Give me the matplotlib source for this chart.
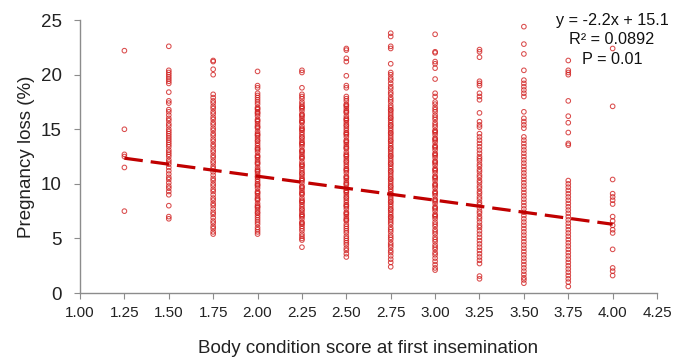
import matplotlib
matplotlib.use("Agg")
import matplotlib.pyplot as plt
import numpy as np

plt.rcParams['font.family'] = ['Liberation Sans', 'DejaVu Sans']

# ---- data ----
bcs = [1.25, 1.50, 1.75, 2.00, 2.25, 2.50, 2.75, 3.00, 3.25, 3.50, 3.75, 4.00]

c125 = [22.2, 15.0, 12.7, 12.5, 11.5, 7.5]
c150 = [22.6, 20.4, 20.2, 20.0, 19.8, 19.6, 19.4, 19.2, 18.4, 17.6, 17.4, 16.8, 16.6, 16.3, 16.0, 15.8,
        15.5, 15.3, 15.0, 14.8, 14.6, 14.4, 14.2, 14.0, 13.8, 13.6, 13.4, 13.1, 12.9, 12.7, 12.5, 12.2,
        12.0, 11.8, 11.5, 11.2, 10.9, 10.6, 10.4, 10.1, 9.8, 9.6, 9.3, 9.0, 8.0, 7.0, 6.8]
c175 = [21.3, 21.2, 20.5, 20.0, 18.2, 17.9, 17.6, 17.4, 17.1, 16.9, 16.6, 16.4, 16.1, 15.9, 15.6, 15.4,
        15.1, 14.9, 14.6, 14.4, 14.1, 13.9, 13.6, 13.4, 13.1, 12.9, 12.6, 12.4, 12.1, 11.9, 11.6, 11.4,
        11.1, 10.8, 10.5, 10.3, 10.0, 9.8, 9.5, 9.3, 9.0, 8.7, 8.5, 8.2, 8.0, 7.7, 7.4, 7.2, 6.9, 6.6,
        6.4, 6.1, 5.9, 5.6, 5.4]
c200 = [20.3, 19.0, 18.8, 18.3, 18.1, 17.9, 17.7, 17.5, 17.3, 17.0, 16.8, 16.6, 16.4, 16.2, 15.9, 15.7,
        15.5, 15.3, 15.1, 14.8, 14.6, 14.4, 14.2, 14.0, 13.7, 13.5, 13.3, 13.1, 12.9, 12.6, 12.4, 12.2,
        12.0, 11.8, 11.5, 11.3, 11.1, 10.9, 10.7, 10.4, 10.2, 10.0, 9.8, 9.6, 9.3, 9.1, 8.9, 8.7, 8.5,
        8.2, 8.0, 7.8, 7.6, 7.4, 7.1, 6.9, 6.7, 6.5, 6.3, 6.0, 5.8, 5.6, 5.4]
c225 = [20.4, 20.2, 18.8, 18.2, 18.0, 17.8, 17.5, 17.3, 17.1, 16.9, 16.7, 16.4, 16.2, 16.0, 15.8, 15.6,
        15.3, 15.1, 14.9, 14.7, 14.5, 14.2, 14.0, 13.8, 13.6, 13.4, 13.1, 12.9, 12.7, 12.5, 12.3, 12.0,
        11.8, 11.6, 11.4, 11.2, 10.9, 10.7, 10.5, 10.3, 10.1, 9.8, 9.6, 9.4, 9.2, 9.0, 8.7, 8.5, 8.3,
        8.1, 7.9, 7.6, 7.4, 7.2, 7.0, 6.8, 6.5, 6.3, 6.1, 5.9, 5.7, 5.4, 5.2, 5.0, 4.85, 4.2]
c250 = [22.4, 22.25, 21.5, 21.2, 19.9, 19.0, 18.8, 18.0, 17.8, 17.6, 17.3, 17.1, 16.9, 16.7, 16.5, 16.2,
        16.0, 15.8, 15.6, 15.4, 15.1, 14.9, 14.7, 14.5, 14.3, 14.0, 13.8, 13.6, 13.4, 13.2, 12.9, 12.7,
        12.5, 12.3, 12.1, 11.8, 11.6, 11.4, 11.2, 11.0, 10.7, 10.5, 10.3, 10.1, 9.9, 9.6, 9.4, 9.2, 9.0,
        8.8, 8.5, 8.3, 8.1, 7.9, 7.7, 7.4, 7.2, 7.0, 6.8, 6.6, 6.3, 6.1, 5.9, 5.7, 5.5, 5.2, 5.0, 4.8,
        4.6, 4.4, 4.1, 3.9, 3.6, 3.3]
c275 = [23.8, 23.5, 22.6, 22.4, 21.0, 20.2, 20.0, 19.7, 19.5, 19.2, 18.9, 18.7, 18.4, 18.2, 17.9, 17.7,
        17.5, 17.2, 17.0, 16.8, 16.5, 16.3, 16.1, 15.8, 15.6, 15.4, 15.1, 14.9, 14.7, 14.4, 14.2, 14.0,
        13.7, 13.5, 13.3, 13.0, 12.8, 12.6, 12.3, 12.1, 11.9, 11.6, 11.4, 11.2, 10.9, 10.7, 10.5, 10.2,
        10.0, 9.8, 9.5, 9.3, 9.1, 8.8, 8.6, 8.4, 8.1, 7.9, 7.7, 7.4, 7.2, 7.0, 6.7, 6.5, 6.3, 6.0, 5.8,
        5.6, 5.3, 5.1, 4.9, 4.6, 4.4, 4.2, 3.9, 3.7, 3.4, 3.1, 2.8, 2.4]
c300 = [23.7, 22.1, 22.0, 21.2, 21.0, 20.6, 19.6, 18.3, 18.0, 17.5, 17.3, 17.0, 16.8, 16.6, 16.3, 16.1,
        15.9, 15.6, 15.4, 15.2, 14.9, 14.7, 14.5, 14.2, 14.0, 13.8, 13.5, 13.3, 13.1, 12.8, 12.6, 12.4,
        12.1, 11.9, 11.7, 11.4, 11.2, 11.0, 10.7, 10.5, 10.3, 10.0, 9.8, 9.6, 9.3, 9.1, 8.9, 8.6, 8.4,
        8.2, 7.9, 7.7, 7.5, 7.2, 7.0, 6.8, 6.5, 6.3, 6.1, 5.8, 5.6, 5.4, 5.1, 4.9, 4.7, 4.4, 4.2, 4.0,
        3.7, 3.5, 3.2, 2.9, 2.6, 2.3, 2.1]
c325 = [22.3, 22.1, 21.6, 19.4, 19.2, 19.0, 18.3, 18.0, 17.7, 16.5, 15.7, 15.4, 15.2, 14.6, 14.3, 14.0,
        13.7, 13.4, 13.1, 12.8, 12.5, 12.3, 12.1, 11.8, 11.6, 11.3, 11.1, 10.8, 10.6, 10.3, 10.1, 9.8,
        9.6, 9.3, 9.1, 8.8, 8.6, 8.3, 8.1, 7.8, 7.5, 7.3, 7.0, 6.8, 6.5, 6.2, 6.0, 5.7, 5.4, 5.1, 4.8,
        4.5, 4.2, 3.9, 3.6, 3.3, 3.0, 2.7, 1.55, 1.3]
c350 = [24.4, 22.8, 21.9, 20.4, 19.5, 19.2, 18.9, 18.6, 18.3, 18.0, 16.6, 16.0, 15.7, 15.4, 15.1, 14.3,
        14.0, 13.7, 13.4, 13.1, 12.8, 12.5, 12.2, 11.9, 11.6, 11.3, 11.0, 10.7, 10.4, 10.1, 9.8, 9.5,
        9.2, 8.9, 8.6, 8.3, 8.0, 7.7, 7.4, 7.1, 6.8, 6.5, 6.2, 5.9, 5.6, 5.3, 5.0, 4.7, 4.4, 4.1, 3.8,
        3.5, 3.2, 2.9, 2.6, 2.3, 2.0, 1.7, 1.4, 1.2, 0.9]
c375 = [21.3, 20.4, 20.2, 20.0, 17.6, 16.2, 15.6, 14.7, 13.7, 13.55, 10.3, 10.0, 9.7, 9.4, 9.1, 8.8,
        8.5, 8.2, 7.9, 7.6, 7.3, 7.0, 6.7, 6.4, 6.1, 5.8, 5.5, 5.2, 4.9, 4.6, 4.3, 4.0, 3.7, 3.4, 3.1,
        2.8, 2.5, 2.2, 1.9, 1.6, 1.3, 1.0, 0.6]
c400 = [22.4, 17.1, 10.4, 9.1, 8.8, 8.5, 8.15, 7.0, 6.6, 6.2, 5.8, 5.5, 4.0, 2.3, 2.0, 1.6]

# extra overlapping observations in the densest cores
core200 = [16.9, 16.5, 15.8, 15.2, 14.5, 13.9, 13.2, 12.5, 11.9, 11.2, 10.6, 9.9, 9.2, 8.6, 7.9, 7.3]
core225 = [17.0, 16.3, 15.7, 15.0, 14.3, 13.7, 13.0, 12.4, 11.7, 11.0, 10.4, 9.7, 9.1, 8.4, 7.7, 7.1, 6.4]
core250 = [17.2, 16.6, 15.9, 15.3, 14.6, 13.9, 13.3, 12.6, 12.0, 11.3, 10.6, 10.0, 9.3, 8.7, 8.0, 7.3, 6.7]
core275 = [16.7, 16.0, 15.3, 14.6, 13.9, 13.2, 12.5, 11.8, 11.1, 10.4, 9.7, 9.0, 8.3, 7.6, 6.9]
core300 = [14.8, 14.1, 13.4, 12.7, 12.0, 11.3, 10.6, 9.9, 9.2, 8.5, 7.8, 7.1]

columns = [c125, c150, c175, c200, c225, c250, c275, c300, c325, c350, c375, c400]
cores = {2.00: core200, 2.25: core225, 2.50: core250, 2.75: core275, 3.00: core300}

slope = -2.2
intercept = 15.1
stats_text = ["y = -2.2x + 15.1", "R\u00b2 = 0.0892", "P = 0.01"]

xticks = [1.00, 1.25, 1.50, 1.75, 2.00, 2.25, 2.50, 2.75, 3.00, 3.25, 3.50, 3.75, 4.00, 4.25]
yticks = [0, 5, 10, 15, 20, 25]

# ---- plot ----
fig = plt.figure(figsize=(6.88, 3.59), dpi=100)
ax = fig.add_axes([0.1163, 0.1838, 0.8387, 0.7602])

mcolor = (0.82, 0.12, 0.12, 0.8)
for x, vals in zip(bcs, columns):
    ax.scatter([x] * len(vals), vals, s=11, facecolors='none',
               edgecolors=mcolor, linewidths=0.75, zorder=2)
for x, vals in cores.items():
    ax.scatter([x] * len(vals), vals, s=11, facecolors='none',
               edgecolors=mcolor, linewidths=0.75, zorder=2)

lx = np.array([bcs[0], bcs[-1]])
ax.plot(lx, intercept + slope * lx, color='#c00000', lw=2.3,
        dashes=(5.8, 2.5), zorder=3)

ax.set_xlim(1.0, 4.25)
ax.set_ylim(0, 25)
ax.set_xticks(xticks)
ax.set_xticklabels([f"{t:.2f}" for t in xticks])
ax.set_yticks(yticks)
for s in ['top', 'right']:
    ax.spines[s].set_visible(False)
for s in ['left', 'bottom']:
    ax.spines[s].set_color('#8c8c8c')
    ax.spines[s].set_linewidth(1.0)
ax.tick_params(axis='both', colors='#8c8c8c', length=4, width=0.8, direction='out')
ax.tick_params(axis='x', labelsize=11, labelcolor='#222222', pad=5)
ax.tick_params(axis='y', labelsize=13.5, labelcolor='#222222', pad=9)

ax.set_xlabel("Body condition score at first insemination", fontsize=13.5,
              color='#222222', labelpad=15)
ax.set_ylabel("Pregnancy loss (%)", fontsize=13.5, color='#222222', labelpad=4)

for i, t in enumerate(stats_text):
    fig.text(612 / 688, 1 - (20 + 19.5 * i) / 359, t, ha='center', va='center',
             fontsize=11.7, color='#111111')

fig.savefig("out.png", dpi=100)
